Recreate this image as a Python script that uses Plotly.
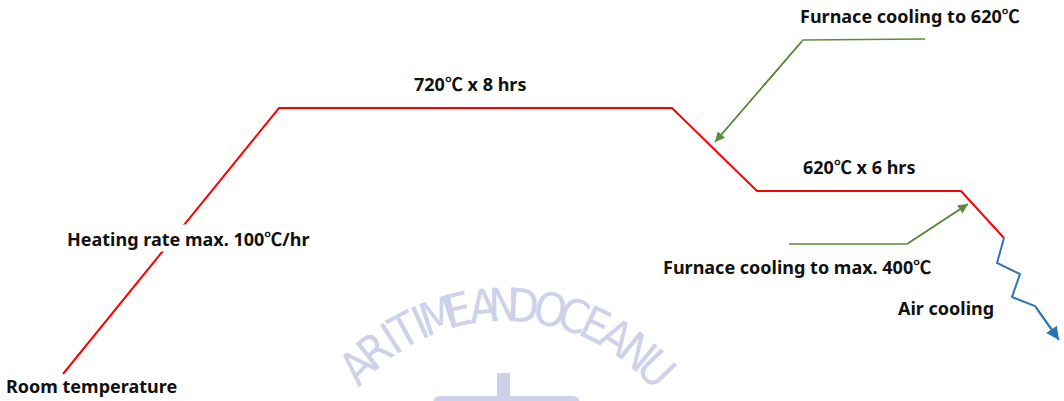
import math
import plotly.graph_objects as go

W, H = 1064, 401

# heat-treatment profile (page units: x to the right, y downward)
profile_x = [63, 279, 672, 757, 961, 1004]
profile_y = [374, 108, 108, 191, 191, 238]

# air-cooling zigzag
air_x = [1004, 997, 1020, 1012, 1035, 1059]
air_y = [238, 263, 274, 297, 306, 340]

# leader arrows
lead1_x = [925, 803, 715]
lead1_y = [39, 40, 142]
lead2_x = [789, 907, 968]
lead2_y = [244, 244, 204]

# labels
label_text = [
    "Room temperature",
    "Heating rate max. 100℃/hr",
    "720℃ x 8 hrs",
    "Furnace cooling to 620℃",
    "620℃ x 6 hrs",
    "Furnace cooling to max. 400℃",
    "Air cooling",
]
label_x = [91, 188, 470, 910, 859, 797, 946]
label_y = [386, 238, 83, 15, 166, 266, 308]
label_bg = [False, True, False, False, False, False, False]

# faint watermark letters along an arc
wm_letters = list("ARITIMEANDOCEANU")
wm_angles = [-45, -38.5, -33, -28.5, -24, -18.5, -13, -6, -0.5, 5,
             12.5, 19, 25.5, 32, 39, 46]
wm_center = (505, 515)
wm_radius = 210

RED = "#FF0000"
GREEN = "#5B8C3C"
BLUE = "#2E75B6"
WM = "#CDD2EA"
FONT = "Noto Sans, Noto Sans CJK KR, sans-serif"
CJK = "Noto Sans CJK KR"


def fmt(s):
    return s.replace("℃", f"<span style=\"font-family:'{CJK}'\">℃</span>")


fig = go.Figure()

fig.add_trace(go.Scatter(x=profile_x, y=profile_y, mode="lines",
                         line=dict(color=RED, width=2), hoverinfo="skip"))
fig.add_trace(go.Scatter(x=air_x, y=air_y, mode="lines",
                         line=dict(color=BLUE, width=2), hoverinfo="skip"))
fig.add_trace(go.Scatter(x=lead1_x, y=lead1_y, mode="lines",
                         line=dict(color=GREEN, width=1.5), hoverinfo="skip"))
fig.add_trace(go.Scatter(x=lead2_x, y=lead2_y, mode="lines",
                         line=dict(color=GREEN, width=1.5), hoverinfo="skip"))

annotations = []
# watermark
for ch, ang in zip(wm_letters, wm_angles):
    t = math.radians(ang)
    annotations.append(dict(
        x=wm_center[0] + wm_radius * math.sin(t),
        y=wm_center[1] - wm_radius * math.cos(t),
        xref="x", yref="y", text=ch, showarrow=False, textangle=ang,
        font=dict(family="DejaVu Sans Condensed, Liberation Sans Narrow, sans-serif",
                  size=46, color=WM),
        xanchor="center", yanchor="middle", borderpad=0))

# arrowheads
for xs, ys, col in [(lead1_x, lead1_y, GREEN), (lead2_x, lead2_y, GREEN), (air_x, air_y, BLUE)]:
    annotations.append(dict(
        x=xs[-1], y=ys[-1], ax=xs[-2], ay=ys[-2],
        xref="x", yref="y", axref="x", ayref="y",
        text="", showarrow=True, arrowhead=2, arrowsize=1.3,
        arrowwidth=1.5 if col == GREEN else 2, arrowcolor=col, standoff=0))

for txt, x, y, bg in zip(label_text, label_x, label_y, label_bg):
    annotations.append(dict(
        x=x, y=y, xref="x", yref="y", text=fmt(txt), showarrow=False,
        font=dict(family=FONT, size=18, color="#111111", weight="bold"),
        xanchor="center", yanchor="middle",
        bgcolor="white" if bg else None, borderpad=0))

fig.update_layout(
    width=W, height=H,
    margin=dict(l=0, r=0, t=0, b=0),
    paper_bgcolor="white", plot_bgcolor="white",
    showlegend=False,
    xaxis=dict(range=[0, W], visible=False, fixedrange=True),
    yaxis=dict(range=[H, 0], visible=False, fixedrange=True),
    annotations=annotations,
)

# watermark anchor bits
fig.add_shape(type="rect", x0=497, x1=510, y0=373, y1=401, xref="x", yref="y",
              fillcolor=WM, line=dict(width=0), layer="below")
fig.add_shape(type="path", path="M 433 401 L 433 404 Q 433 396 441 396 L 572 396 Q 580 396 580 404 L 580 401 Z",
              xref="x", yref="y", fillcolor=WM, line=dict(width=0), layer="below")

fig.write_html("out.html",
               config={"displayModeBar": False, "staticPlot": True},
               post_script="document.body.style.margin='0';document.body.style.overflow='hidden';")
